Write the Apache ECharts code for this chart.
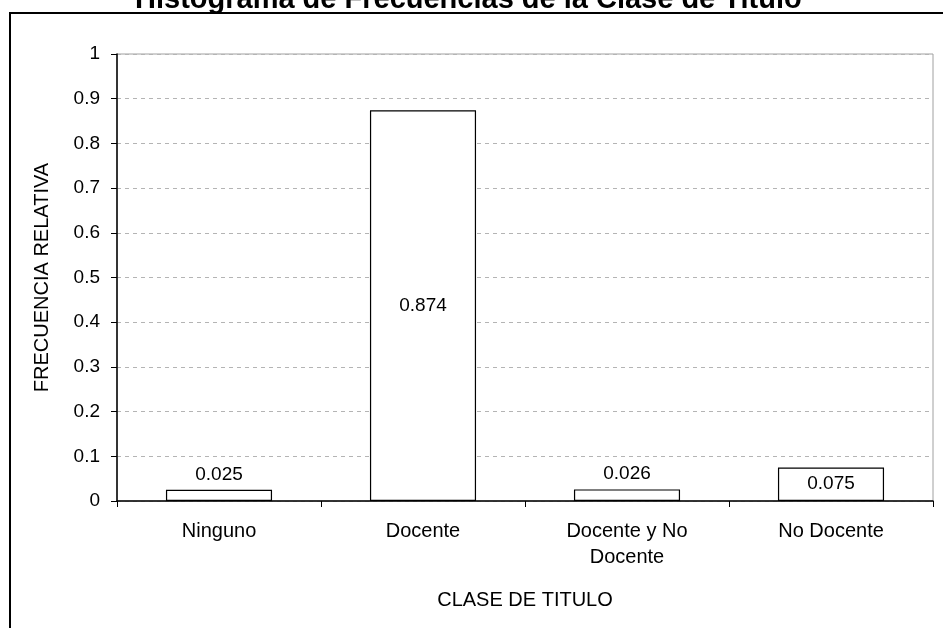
<!DOCTYPE html>
<html>
<head>
<meta charset="utf-8">
<script src="https://cdn.jsdelivr.net/npm/echarts@6/dist/echarts.min.js"></script>
<style>
    html, body { margin: 0; padding: 0; background: #fff; }
    #chart { width: 943px; height: 628px; }
</style>
</head>
<body>
<div id="chart"></div>
<script>
    var categorias = ['Ninguno', 'Docente', 'Docente y No\nDocente', 'No Docente'];
    var frecuencias = [0.025, 0.874, 0.026, 0.075];

    var fuente = 'Liberation Sans';

    var chart = echarts.init(document.getElementById('chart'));
    var option = {
        animation: false,
        backgroundColor: '#fff',
        title: {
            text: 'Histograma de Frecuencias de la Clase de Titulo',
            left: 130,
            top: -20,
            textStyle: {
                fontFamily: fuente,
                fontSize: 29,
                fontWeight: 'bold',
                color: '#000'
            }
        },
        graphic: [{
            type: 'rect',
            shape: { x: 10, y: 13, width: 960, height: 660 },
            style: { fill: 'none', stroke: '#000', lineWidth: 2 },
            z: 0
        }],
        grid: {
            left: 117,
            right: 10,
            top: 54,
            bottom: 127,
            show: true,
            borderColor: '#a0a0a0',
            borderWidth: 1,
            backgroundColor: 'transparent'
        },
        xAxis: {
            type: 'category',
            data: categorias,
            name: 'CLASE DE TITULO',
            nameLocation: 'middle',
            nameGap: 89,
            nameTextStyle: { fontFamily: fuente, fontSize: 20, color: '#000' },
            axisLine: { lineStyle: { color: '#000', width: 1.5 } },
            axisTick: { show: true, length: 6, lineStyle: { color: '#000' } },
            axisLabel: {
                fontFamily: fuente,
                fontSize: 20,
                color: '#000',
                margin: 17,
                lineHeight: 26,
                interval: 0
            }
        },
        yAxis: {
            type: 'value',
            min: 0,
            max: 1,
            interval: 0.1,
            name: 'FRECUENCIA RELATIVA',
            nameLocation: 'middle',
            nameGap: 65,
            nameTextStyle: { fontFamily: fuente, fontSize: 20, color: '#000' },
            axisLine: { show: true, lineStyle: { color: '#000', width: 1.5 } },
            axisTick: { show: true, length: 6, lineStyle: { color: '#000' } },
            axisLabel: {
                fontFamily: fuente,
                fontSize: 19,
                color: '#000',
                margin: 17,
                formatter: function (v) { return String(+v.toFixed(1)); }
            },
            splitLine: {
                show: true,
                lineStyle: { color: '#b4b4b4', type: [4, 4], width: 1 }
            }
        },
        series: [{
            type: 'bar',
            barWidth: '52%',
            data: frecuencias.map(function (v) {
                return {
                    value: v,
                    label: { position: v > 0.05 ? 'inside' : 'top' }
                };
            }),
            itemStyle: { color: '#fff', borderColor: '#000', borderWidth: 1.2 },
            label: {
                show: true,
                fontFamily: fuente,
                fontSize: 19,
                color: '#000',
                distance: 6
            }
        }]
    };
    chart.setOption(option);
</script>
</body>
</html>
